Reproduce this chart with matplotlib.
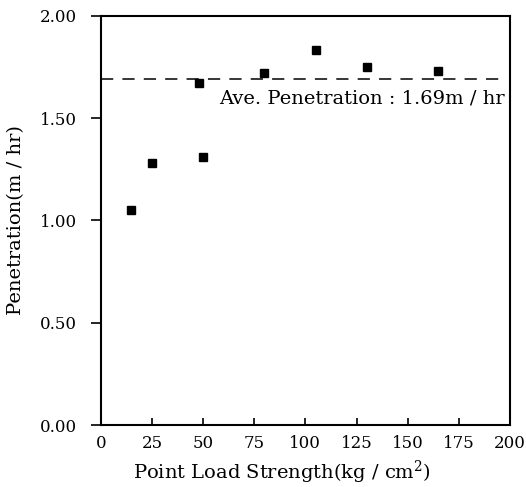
import matplotlib
matplotlib.use("Agg")
import matplotlib.pyplot as plt

# Measured penetration rate against point load strength
strength = [15, 25, 48, 50, 80, 105, 130, 165]
penetration = [1.05, 1.28, 1.67, 1.31, 1.72, 1.83, 1.75, 1.73]
avg_penetration = 1.69
avg_span = [0, 197]

x_ticks = [0, 25, 50, 75, 100, 125, 150, 175, 200]
y_ticks = [0.0, 0.5, 1.0, 1.5, 2.0]
y_tick_labels = ["0.00", "0.50", "1.00", "1.50", "2.00"]

plt.rcParams["font.family"] = ["DejaVu Serif"]
plt.rcParams["mathtext.fontset"] = "dejavuserif"

fig = plt.figure(figsize=(5.26, 4.87), dpi=100)
ax = fig.add_axes([0.1915, 0.1273, 0.7781, 0.8405])

ax.plot(strength, penetration, linestyle="none", marker="s",
        markersize=5.2, color="black")

# average line across the plot
ax.plot(avg_span, [avg_penetration, avg_penetration], color="black",
        linewidth=1.1, dashes=(8, 6))
ax.text(58, 1.595, "Ave. Penetration : %.2fm / hr" % avg_penetration,
        fontsize=14, va="center", ha="left")

ax.set_xlim(0, 200)
ax.set_ylim(0, 2.0)
ax.set_xticks(x_ticks)
ax.set_yticks(y_ticks)
ax.set_yticklabels(y_tick_labels)

for side in ax.spines.values():
    side.set_linewidth(1.5)

ax.tick_params(axis="x", direction="in", length=5, width=1.2,
               labelsize=12, pad=7)
ax.tick_params(axis="y", direction="out", length=7, width=1.2,
               labelsize=12, pad=10)

ax.set_xlabel("Point Load Strength(kg / cm$^2$)", fontsize=14)
ax.set_ylabel("Penetration(m / hr)", fontsize=14)
ax.xaxis.set_label_coords(0.442, -0.082)
ax.yaxis.set_label_coords(-0.185, 0.5)

fig.savefig("out.png", dpi=100)
